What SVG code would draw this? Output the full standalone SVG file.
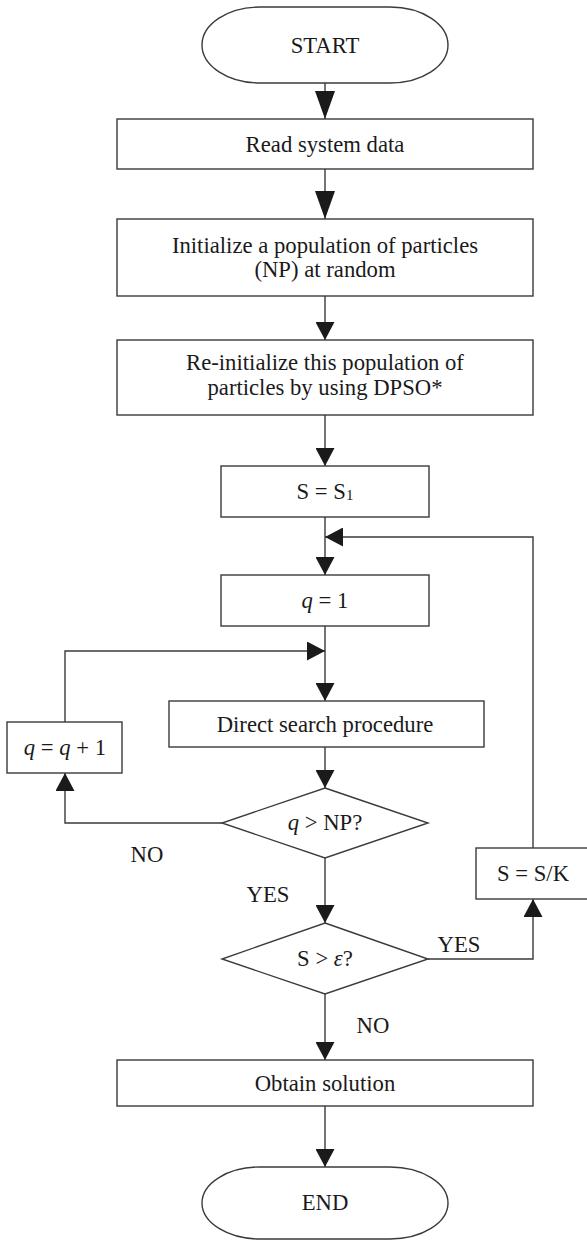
<svg xmlns="http://www.w3.org/2000/svg" width="587" height="1241" viewBox="0 0 587 1241">
<style>
.box{fill:#fff;stroke:#3a3a3a;stroke-width:1.4}
.ln{fill:none;stroke:#3a3a3a;stroke-width:1.4}
.t{font-family:"Liberation Serif","Times New Roman",serif;font-size:22.7px;fill:#1a1a1a;text-anchor:middle}
.i{font-style:italic}
</style>
<defs>
<marker id="big" viewBox="0 0 28 20" markerWidth="28" markerHeight="20" refX="28" refY="10" markerUnits="userSpaceOnUse" orient="auto">
<path d="M0,0 L28,10 L0,20 z" fill="#1a1a1a"/>
</marker>
<marker id="arr" viewBox="0 0 18 19" markerWidth="18" markerHeight="19" refX="18" refY="9.5" markerUnits="userSpaceOnUse" orient="auto">
<path d="M0,0 L18,9.5 L0,19 z" fill="#1a1a1a"/>
</marker>
</defs>
<rect width="587" height="1241" fill="#fff"/>
<g id="connectors">
<path class="ln" d="M325,83 V119" marker-end="url(#big)"/>
<path class="ln" d="M325,169 V219" marker-end="url(#big)"/>
<path class="ln" d="M325,296 V340" marker-end="url(#arr)"/>
<path class="ln" d="M325,415 V466" marker-end="url(#arr)"/>
<path class="ln" d="M325,517 V575" marker-end="url(#arr)"/>
<path class="ln" d="M533,848 V537 H325" marker-end="url(#arr)"/>
<path class="ln" d="M325,626 V701" marker-end="url(#arr)"/>
<path class="ln" d="M65,722 V651 H325" marker-end="url(#arr)"/>
<path class="ln" d="M325,747 V788" marker-end="url(#arr)"/>
<path class="ln" d="M222,823 H65 V773" marker-end="url(#arr)"/>
<path class="ln" d="M325,858 V923" marker-end="url(#arr)"/>
<path class="ln" d="M428,959 H533 V899" marker-end="url(#arr)"/>
<path class="ln" d="M325,994 V1060" marker-end="url(#arr)"/>
<path class="ln" d="M325,1106 V1167" marker-end="url(#arr)"/>
<text class="t" x="147" y="862">NO</text>
<text class="t" x="268" y="902">YES</text>
<text class="t" x="459" y="952">YES</text>
<text class="t" x="373" y="1033">NO</text>
</g>
<g id="start">
<rect class="box" x="202" y="7" width="246" height="76" rx="58" ry="38"/>
<text class="t" x="325" y="53">START</text>
</g>
<g id="read">
<rect class="box" x="117" y="119" width="416" height="50"/>
<text class="t" x="325" y="152">Read system data</text>
</g>
<g id="init">
<rect class="box" x="117" y="219" width="416" height="77"/>
<text class="t" x="325" y="253">Initialize a population of particles</text>
<text class="t" x="325" y="277">(NP) at random</text>
</g>
<g id="reinit">
<rect class="box" x="117" y="340" width="416" height="75"/>
<text class="t" x="325" y="370">Re-initialize this population of</text>
<text class="t" x="325" y="395">particles by using DPSO*</text>
</g>
<g id="s1">
<rect class="box" x="221" y="466" width="208" height="51"/>
<text class="t" x="325" y="499">S = S<tspan font-size="15" dy="1">1</tspan></text>
</g>
<g id="q1">
<rect class="box" x="221" y="575" width="208" height="51"/>
<text class="t" x="325" y="608"><tspan class="i">q</tspan> = 1</text>
</g>
<g id="direct">
<rect class="box" x="169" y="701" width="315" height="46"/>
<text class="t" x="325" y="732">Direct search procedure</text>
</g>
<g id="qinc">
<rect class="box" x="7" y="722" width="115" height="51"/>
<text class="t" x="65" y="755"><tspan class="i">q</tspan> = <tspan class="i">q</tspan> + 1</text>
</g>
<g id="dec1">
<polygon class="box" points="325,788 428,823 325,858 222,823"/>
<text class="t" x="325" y="830"><tspan class="i">q</tspan> &gt; NP?</text>
</g>
<g id="dec2">
<polygon class="box" points="325,923 428,959 325,994 222,959"/>
<text class="t" x="325" y="966">S &gt; <tspan class="i">ε</tspan>?</text>
</g>
<g id="sk">
<rect class="box" x="476" y="848" width="114" height="51"/>
<text class="t" x="533" y="881">S = S/K</text>
</g>
<g id="obtain">
<rect class="box" x="117" y="1060" width="416" height="46"/>
<text class="t" x="325" y="1091">Obtain solution</text>
</g>
<g id="end">
<rect class="box" x="202" y="1167" width="246" height="72" rx="58" ry="36"/>
<text class="t" x="325" y="1210">END</text>
</g>
</svg>
